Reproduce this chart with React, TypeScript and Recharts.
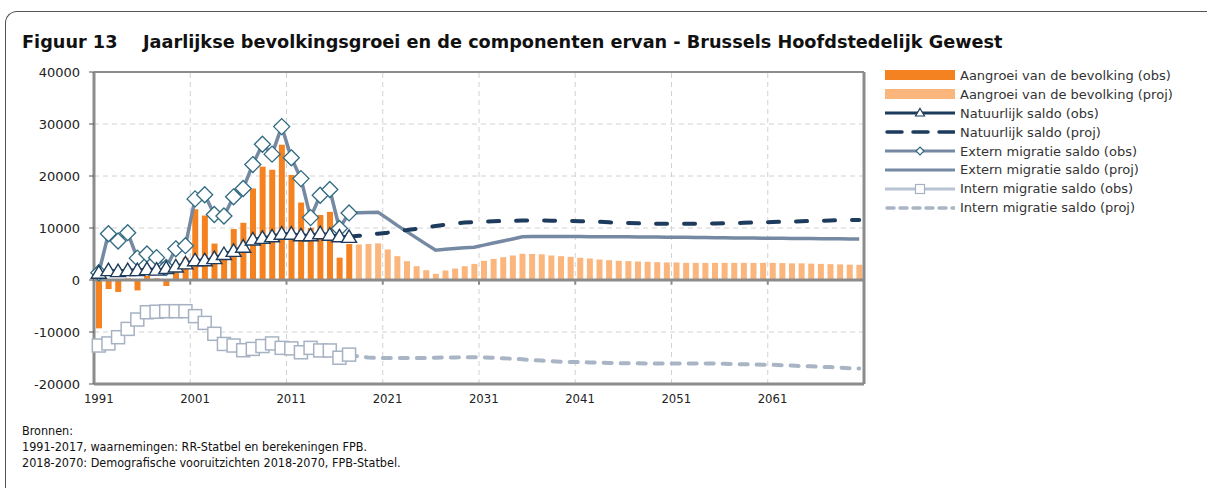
import React from 'react';
import {
  ComposedChart, Bar, Line, XAxis, YAxis, CartesianGrid, ReferenceLine,
} from 'recharts';

const years: number[] = [];
for (let y = 1991; y <= 2070; y++) years.push(y);

// Aangroei van de bevolking (obs) 1991-2017
const growthObs = [
  -9300, -1750, -2300, 300, -2000, 800, 300, -1150, 1500, 4300,
  13600, 12400, 7000, 5000, 9800, 11000, 17600, 21800, 21200, 26000,
  20200, 14900, 10000, 12500, 13100, 4300, 6900,
];
// Aangroei van de bevolking (proj) 2018-2070
const growthProj = [
  6830, 6920, 7050, 5870, 4580, 3620, 2650, 1890, 1190, 1830,
  2210, 2650, 3100, 3690, 4070, 4390, 4710, 5040, 5000, 4940,
  4710, 4580, 4450, 4270, 4130, 3940, 3810, 3690, 3620, 3560,
  3500, 3430, 3370, 3370, 3300, 3300, 3300, 3300, 3300, 3300,
  3300, 3300, 3300, 3300, 3250, 3200, 3200, 3150, 3100, 3050,
  3000, 2950, 2920,
];
// Natuurlijk saldo (obs) 1991-2017
const natObs = [
  1400, 1900, 1700, 1900, 1900, 2100, 2000, 2300, 2600, 3200,
  3800, 3800, 4200, 5000, 5600, 6400, 7800, 8100, 8400, 8900,
  8900, 8600, 8600, 9000, 8700, 8400, 8300,
];
// Natuurlijk saldo (proj) 2017-2070
const natProj = [
  8300, 8500, 8700, 8900, 9100, 9400, 9600, 9850, 10100, 10400,
  10650, 10900, 11050, 11150, 11250, 11300, 11350, 11400, 11450, 11450,
  11450, 11400, 11400, 11350, 11300, 11250, 11200, 11100, 11000, 10950,
  10900, 10850, 10800, 10800, 10800, 10800, 10800, 10850, 10850, 10900,
  10950, 11000, 11050, 11100, 11150, 11200, 11250, 11300, 11350, 11400,
  11450, 11500, 11550, 11550,
];
// Extern migratie saldo (obs) 1991-2017
const extObs = [
  1400, 8900, 7500, 9100, 4200, 5000, 4300, 2400, 6000, 6600,
  15600, 16400, 12600, 12300, 16000, 17600, 22200, 26100, 24200, 29500,
  23500, 19500, 12000, 16300, 17400, 9900, 12900,
];
// Extern migratie saldo (proj) 2017-2070
const extProj = [
  12900, 12950, 13000, 13050, 11800, 10500, 9300, 8100, 6900, 5730,
  5900, 6050, 6200, 6310, 6700, 7100, 7500, 7900, 8300, 8350,
  8350, 8350, 8350, 8350, 8350, 8340, 8330, 8320, 8310, 8300,
  8290, 8270, 8250, 8240, 8220, 8200, 8180, 8160, 8140, 8120,
  8100, 8080, 8060, 8050, 8030, 8010, 7990, 7970, 7960, 7940,
  7930, 7910, 7900, 7900,
];
// Intern migratie saldo (obs) 1991-2017
const intObs = [
  -12600, -12200, -11000, -9400, -7600, -6200, -6100, -6000, -6000, -6000,
  -6950, -8250, -10350, -12300, -12600, -13500, -13250, -12700, -12200, -13050,
  -13150, -13900, -13050, -13550, -13550, -14950, -14350,
];
// Intern migratie saldo (proj) 2017-2070
const intProj = [
  -14350, -14700, -14900, -15000, -15000, -15000, -15000, -15000, -15000, -14950,
  -14900, -14900, -14850, -14850, -14900, -14950, -15050, -15150, -15250, -15400,
  -15500, -15600, -15700, -15750, -15800, -15850, -15900, -15950, -16000, -16000,
  -16000, -16050, -16050, -16050, -16050, -16050, -16050, -16050, -16050, -16100,
  -16150, -16200, -16250, -16300, -16300, -16400, -16450, -16550, -16600, -16700,
  -16750, -16850, -16950, -17000,
];

const xTickYears = [1991, 2001, 2011, 2021, 2031, 2041, 2051, 2061];
const yTicks = [-20000, -10000, 0, 10000, 20000, 30000, 40000];
const decadeBounds = [2000.5, 2010.5, 2020.5, 2030.5, 2040.5, 2050.5, 2060.5];

const legendItems = [
  'Aangroei van de bevolking (obs)',
  'Aangroei van de bevolking (proj)',
  'Natuurlijk saldo (obs)',
  'Natuurlijk saldo (proj)',
  'Extern migratie saldo (obs)',
  'Extern migratie saldo (proj)',
  'Intern migratie saldo (obs)',
  'Intern migratie saldo (proj)',
];

const C = {
  barObs: '#F58220',
  barProj: '#FAB67C',
  nat: '#1D3B5C',
  ext: '#7589A2',
  extMarker: '#2F6A80',
  intLine: '#B9C4D2',
  intMarker: '#A6B2C3',
  intProj: '#A9B5C5',
  axis: '#8C8C8C',
  grid: '#D2D2D2',
};

const data = years.map((year, i) => {
  const o = i < 27 ? i : -1;
  const p = year >= 2017 ? year - 2017 : -1;
  return {
    year,
    growthObs: o >= 0 ? growthObs[o] : null,
    growthProj: year >= 2018 ? growthProj[year - 2018] : null,
    natObs: o >= 0 ? natObs[o] : null,
    extObs: o >= 0 ? extObs[o] : null,
    intObs: o >= 0 ? intObs[o] : null,
    natProj: p >= 0 ? natProj[p] : null,
    extProj: p >= 0 ? extProj[p] : null,
    intProj: p >= 0 ? intProj[p] : null,
  };
});

const WIDE = "'DejaVu Sans', sans-serif";
const COND = "'DejaVu Sans Condensed', 'DejaVu Sans', sans-serif";

const Triangle = (props: any) => {
  const { cx, cy, value } = props;
  if (cx == null || cy == null || value == null) return <g />;
  return (
    <polygon
      points={`${cx},${cy - 7} ${cx + 7.5},${cy + 5.5} ${cx - 7.5},${cy + 5.5}`}
      fill="#fff" stroke={C.nat} strokeWidth={1.4} strokeLinejoin="miter"
    />
  );
};
const Diamond = (props: any) => {
  const { cx, cy, value } = props;
  if (cx == null || cy == null || value == null) return <g />;
  return (
    <polygon
      points={`${cx},${cy - 8} ${cx + 8},${cy} ${cx},${cy + 8} ${cx - 8},${cy}`}
      fill="#fff" stroke={C.extMarker} strokeWidth={1.3}
    />
  );
};
const Square = (props: any) => {
  const { cx, cy, value } = props;
  if (cx == null || cy == null || value == null) return <g />;
  return (
    <rect x={cx - 6.5} y={cy - 6.5} width={13} height={13}
      fill="#fff" stroke={C.intMarker} strokeWidth={1.5} />
  );
};

const LegendSwatch = ({ i }: { i: number }) => {
  const w = 70, h = 14, m = 7;
  let el: React.ReactNode = null;
  if (i === 0) el = <rect x={0} y={2} width={w} height={10} fill={C.barObs} />;
  if (i === 1) el = <rect x={0} y={2} width={w} height={10} fill={C.barProj} />;
  if (i === 2) el = (<g>
    <line x1={0} y1={m} x2={w} y2={m} stroke={C.nat} strokeWidth={3} />
    <polygon points={`35,${m - 4.5} 39.5,${m + 3} 30.5,${m + 3}`} fill="#fff" stroke={C.nat} strokeWidth={1.2} />
  </g>);
  if (i === 3) el = <line x1={2} y1={m} x2={w} y2={m} stroke={C.nat} strokeWidth={3.5} strokeDasharray="15 11" strokeLinecap="round" />;
  if (i === 4) el = (<g>
    <line x1={0} y1={m} x2={w} y2={m} stroke={C.ext} strokeWidth={3} />
    <polygon points={`35,${m - 4} 39,${m} 35,${m + 4} 31,${m}`} fill="#fff" stroke={C.extMarker} strokeWidth={1.2} />
  </g>);
  if (i === 5) el = <line x1={0} y1={m} x2={w} y2={m} stroke={C.ext} strokeWidth={3} />;
  if (i === 6) el = (<g>
    <line x1={0} y1={m} x2={w} y2={m} stroke={C.intLine} strokeWidth={3} />
    <rect x={30.5} y={m - 4.5} width={9} height={9} fill="#fff" stroke={C.intMarker} strokeWidth={1.2} />
  </g>);
  if (i === 7) el = <line x1={2} y1={m} x2={w} y2={m} stroke={C.intProj} strokeWidth={3.5} strokeDasharray="7 6" strokeLinecap="round" />;
  return <svg width={w} height={h} style={{ display: 'block' }}>{el}</svg>;
};

export default function App() {
  return (
    <div style={{ position: 'absolute', left: 0, top: 0, width: 1207, height: 488, background: '#fff', fontFamily: WIDE, overflow: 'hidden' }}>
      <div style={{
        position: 'absolute', left: 5, top: 11, width: 1202, height: 477, boxSizing: 'border-box',
        borderTop: '1.5px solid #555', borderLeft: '1.5px solid #555', borderTopLeftRadius: 12,
      }} />
      <div style={{ position: 'absolute', left: 22, top: 32, fontSize: 17.7, fontWeight: 'bold', color: '#111', whiteSpace: 'nowrap' }}>Figuur 13</div>
      <div style={{ position: 'absolute', left: 143, top: 32, fontSize: 17.7, fontWeight: 'bold', color: '#111', whiteSpace: 'nowrap' }}>
        Jaarlijkse bevolkingsgroei en de componenten ervan - Brussels Hoofdstedelijk Gewest
      </div>

      <div style={{ position: 'absolute', left: 0, top: 0 }}>
        <ComposedChart width={880} height={420} data={data}
          margin={{ top: 72, right: 16, left: 34, bottom: 6 }}>
          <CartesianGrid vertical={false} stroke={C.grid} strokeDasharray="5 4" />
          {decadeBounds.map((b) => (
            <ReferenceLine key={'g' + b} x={b} stroke={C.grid} strokeDasharray="5 4" />
          ))}
          <XAxis type="number" dataKey="year" domain={[1990.5, 2070.5]} ticks={xTickYears}
            interval={0} tickLine={false} axisLine={{ stroke: C.axis, strokeWidth: 3 }}
            tick={{ fontSize: 13, fill: '#222', fontFamily: COND }} tickMargin={4} height={30} />
          <YAxis type="number" domain={[-20000, 40000]} ticks={yTicks} interval={0} width={60}
            axisLine={{ stroke: C.axis, strokeWidth: 3 }} tickLine={{ stroke: '#555' }} tickSize={5} tickMargin={9}
            tick={{ fontSize: 13, fill: '#222', fontFamily: WIDE }} />
          <Bar dataKey="growthObs" stackId="g" fill={C.barObs} barSize={6} isAnimationActive={false} />
          <Bar dataKey="growthProj" stackId="g" fill={C.barProj} barSize={6} isAnimationActive={false} />
          <ReferenceLine y={0} stroke={C.axis} strokeWidth={3} />
          {decadeBounds.map((b) => (
            <ReferenceLine key={'t' + b} segment={[{ x: b, y: 0 }, { x: b, y: -900 }]} stroke={C.axis} strokeWidth={2} />
          ))}
          <ReferenceLine y={40000} stroke={C.axis} strokeWidth={2} />
          <ReferenceLine x={2070.5} stroke={C.axis} strokeWidth={3} />
          <Line dataKey="intProj" stroke={C.intProj} strokeWidth={4} strokeDasharray="8 9" strokeLinecap="round"
            dot={false} isAnimationActive={false} />
          <Line dataKey="intObs" stroke={C.intLine} strokeWidth={3} dot={<Square />} isAnimationActive={false} />
          <Line dataKey="extProj" stroke={C.ext} strokeWidth={3.5} dot={false} isAnimationActive={false} />
          <Line dataKey="extObs" stroke={C.ext} strokeWidth={3.5} dot={<Diamond />} isAnimationActive={false} />
          <Line dataKey="natProj" stroke={C.nat} strokeWidth={4} strokeDasharray="11 17" strokeLinecap="round"
            dot={false} isAnimationActive={false} />
          <Line dataKey="natObs" stroke={C.nat} strokeWidth={3} dot={<Triangle />} isAnimationActive={false} />
        </ComposedChart>
      </div>

      <div style={{ position: 'absolute', left: 885, top: 66 }}>
        {legendItems.map((t, i) => (
          <div key={t} style={{ display: 'flex', alignItems: 'center', height: 18.9 }}>
            <LegendSwatch i={i} />
            <span style={{ marginLeft: 5, fontSize: 13, color: '#333', whiteSpace: 'nowrap' }}>{t}</span>
          </div>
        ))}
      </div>

      <div style={{ position: 'absolute', left: 22, top: 423, fontSize: 12.5, color: '#111', lineHeight: '16px', fontFamily: COND }}>
        <div>Bronnen:</div>
        <div>1991-2017, waarnemingen: RR-Statbel en berekeningen FPB.</div>
        <div>2018-2070: Demografische vooruitzichten 2018-2070, FPB-Statbel.</div>
      </div>
    </div>
  );
}
